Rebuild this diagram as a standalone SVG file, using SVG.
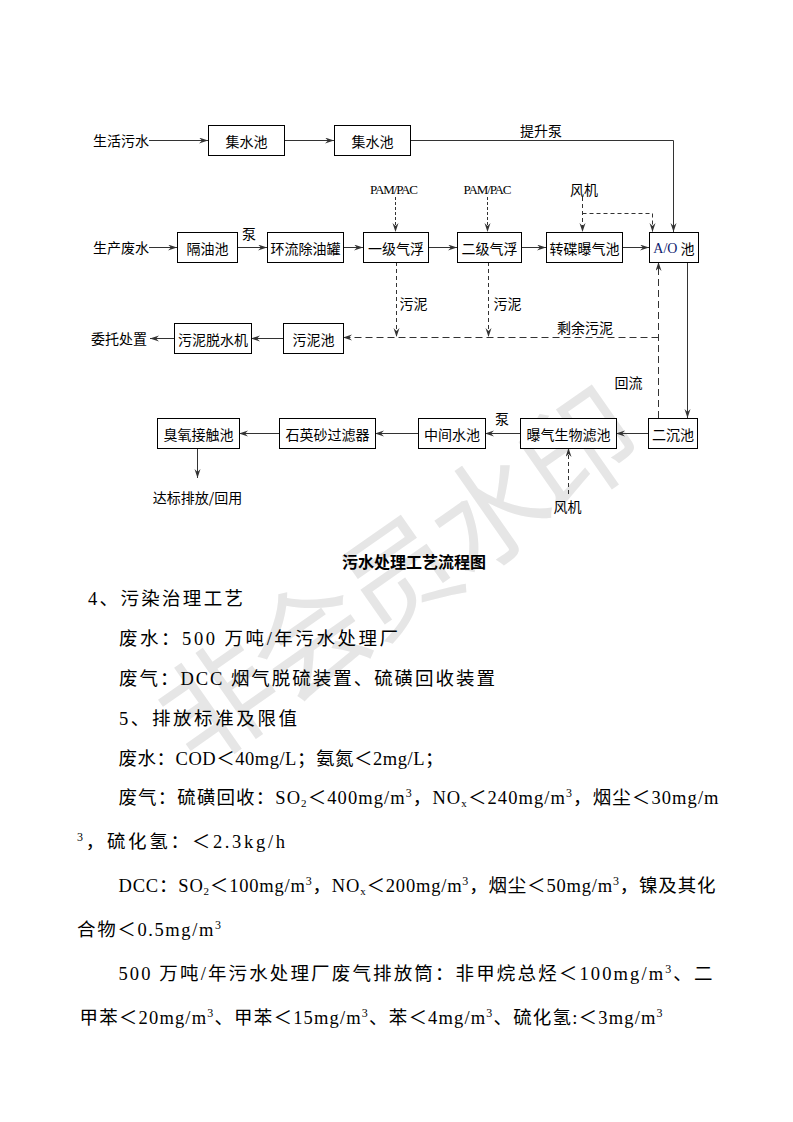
<svg xmlns="http://www.w3.org/2000/svg" width="793" height="1122" viewBox="0 0 793 1122">
<defs>
<marker id="arr" markerUnits="userSpaceOnUse" markerWidth="10" markerHeight="8" refX="9" refY="3" orient="auto">
<path d="M0,0 L9,3 L0,6 L3,3 Z" fill="#333"/>
</marker>
</defs>
<style>
.box{fill:#fff;stroke:#000;stroke-width:1}
.lbl{font-family:"Noto Sans CJK SC",sans-serif;font-size:14px;fill:#000;text-anchor:middle;dominant-baseline:central}
.mono{font-family:"Liberation Serif","Noto Sans CJK SC",serif;font-size:13px;fill:#000;text-anchor:middle;dominant-baseline:central}
.ln{fill:none;stroke:#333;stroke-width:1;marker-end:url(#arr)}
.d1{stroke-dasharray:3 2}
.d2{stroke-dasharray:4 3}
.d3{stroke-dasharray:7 4}
.body{font-family:"Liberation Serif","Noto Sans CJK SC",serif;font-size:18.5px;fill:#000}
.sup{font-size:12px;baseline-shift:7px}
.sub{font-size:11px;baseline-shift:-3px}
.title{font-family:"Noto Sans CJK SC",sans-serif;font-size:16px;font-weight:bold;fill:#000;text-anchor:middle}
.wm{font-family:"Noto Sans CJK SC",sans-serif;font-size:115px;fill:#e6e6e6;text-anchor:middle;letter-spacing:-5px}
</style>
<rect width="793" height="1122" fill="#fff"/>
<g id="watermark">
<text class="wm" x="398" y="618" transform="rotate(-35 400 578)">非会员水印</text>
</g>
<g id="connectors">
<path class="ln" d="M149,140.5 H208"/>
<path class="ln" d="M284,140.5 H334"/>
<path class="ln" d="M410,140.5 H673.5 V232"/>
<path class="ln" d="M149,247.5 H177"/>
<path class="ln" d="M237,247.5 H267"/>
<path class="ln" d="M343,247.5 H363"/>
<path class="ln" d="M428,247.5 H457"/>
<path class="ln" d="M521,247.5 H546"/>
<path class="ln" d="M622,247.5 H649"/>
<path class="ln d1" d="M395.5,197 V232"/>
<path class="ln d1" d="M487.5,197 V232"/>
<path class="ln d2" d="M582.5,197 V232"/>
<path class="ln d2" d="M582.5,213.5 H652.5 V232"/>
<path class="ln d2" d="M396.5,262 V337"/>
<path class="ln d2" d="M488.5,262 V337"/>
<path class="ln d3" d="M658.5,337.5 H343"/>
<path class="ln d3" d="M658.5,418 V262"/>
<path class="ln" d="M283,338.5 H251"/>
<path class="ln" d="M174,338.5 H150"/>
<path class="ln" d="M687.5,262 V418"/>
<path class="ln" d="M648,433.5 H616"/>
<path class="ln" d="M520,433.5 H485"/>
<path class="ln" d="M418,433.5 H375"/>
<path class="ln" d="M279,433.5 H239"/>
<path class="ln" d="M197.5,448 V478" stroke-width="1.5"/>
<path class="ln d2" d="M568.5,494 V448"/>
</g>
<g id="n-shenghuo"><text class="lbl" x="121" y="140">生活污水</text></g>
<g id="n-jishui1"><rect class="box" x="208.5" y="125.5" width="76" height="30"/><text class="lbl" x="246.5" y="140.5">集水池</text></g>
<g id="n-jishui2"><rect class="box" x="334.5" y="125.5" width="76" height="30"/><text class="lbl" x="372.5" y="140.5">集水池</text></g>
<g id="n-tishengbeng"><text class="lbl" x="541" y="130">提升泵</text></g>
<g id="n-shengchan"><text class="lbl" x="121" y="247">生产废水</text></g>
<g id="n-geyou"><rect class="box" x="177.5" y="232.5" width="60" height="30"/><text class="lbl" x="207.5" y="247.5">隔油池</text></g>
<g id="n-beng1"><text class="lbl" x="249" y="233">泵</text></g>
<g id="n-huanliu"><rect class="box" x="267.5" y="232.5" width="76" height="30"/><text class="lbl" x="305.5" y="247.5">环流除油罐</text></g>
<g id="n-yiji"><rect class="box" x="363.5" y="232.5" width="65" height="30"/><text class="lbl" x="396" y="247.5">一级气浮</text></g>
<g id="n-erji"><rect class="box" x="457.5" y="232.5" width="64" height="30"/><text class="lbl" x="489.5" y="247.5">二级气浮</text></g>
<g id="n-zhuandie"><rect class="box" x="546.5" y="232.5" width="76" height="30"/><text class="lbl" x="584.5" y="247.5">转碟曝气池</text></g>
<g id="n-ao"><rect class="box" x="649.5" y="232.5" width="49" height="30"/><text class="lbl" x="674" y="247.5"><tspan font-family="Liberation Serif" fill="#0d1a6e">A/O</tspan> 池</text></g>
<g id="n-pam1"><text class="mono" x="394" y="189" textLength="48">PAM/PAC</text></g>
<g id="n-pam2"><text class="mono" x="487.5" y="189" textLength="48">PAM/PAC</text></g>
<g id="n-fengji1"><text class="lbl" x="584" y="189">风机</text></g>
<g id="n-wuni1"><text class="lbl" x="413.5" y="303">污泥</text></g>
<g id="n-wuni2"><text class="lbl" x="507.5" y="303">污泥</text></g>
<g id="n-shengyu"><text class="lbl" x="585" y="326.5">剩余污泥</text></g>
<g id="n-huiliu"><text class="lbl" x="628.5" y="381.5">回流</text></g>
<g id="n-weituo"><text class="lbl" x="119" y="338">委托处置</text></g>
<g id="n-tuoshui"><rect class="box" x="174.5" y="323.5" width="77" height="30"/><text class="lbl" x="213" y="338.5">污泥脱水机</text></g>
<g id="n-wunichi"><rect class="box" x="283.5" y="323.5" width="60" height="30"/><text class="lbl" x="313.5" y="338.5">污泥池</text></g>
<g id="n-chouyang"><rect class="box" x="157.5" y="418.5" width="82" height="30"/><text class="lbl" x="198.5" y="433.5">臭氧接触池</text></g>
<g id="n-shiying"><rect class="box" x="279.5" y="418.5" width="96" height="30"/><text class="lbl" x="327.5" y="433.5">石英砂过滤器</text></g>
<g id="n-zhongjian"><rect class="box" x="418.5" y="418.5" width="67" height="30"/><text class="lbl" x="452" y="433.5">中间水池</text></g>
<g id="n-beng2"><text class="lbl" x="502" y="418">泵</text></g>
<g id="n-baoqi"><rect class="box" x="520.5" y="418.5" width="96" height="30"/><text class="lbl" x="568.5" y="433.5">曝气生物滤池</text></g>
<g id="n-erchen"><rect class="box" x="648.5" y="418.5" width="49" height="30"/><text class="lbl" x="673" y="433.5">二沉池</text></g>
<g id="n-fengji2"><text class="lbl" x="567.5" y="505.5">风机</text></g>
<g id="n-dabiao"><text class="lbl" x="197.5" y="496.5">达标排放/回用</text></g>
<g id="caption"><text class="title" x="414" y="568">污水处理工艺流程图</text></g>
<g id="body">
<text class="body" x="88" y="605" textLength="155" lengthAdjust="spacing">4、污染治理工艺</text>
<text class="body" x="119" y="645" textLength="279" lengthAdjust="spacing">废水：500 万吨/年污水处理厂</text>
<text class="body" x="119" y="685" textLength="376" lengthAdjust="spacing">废气：DCC 烟气脱硫装置、硫磺回收装置</text>
<text class="body" x="119" y="725" textLength="178" lengthAdjust="spacing">5、排放标准及限值</text>
<text class="body" x="118.5" y="765" textLength="325" lengthAdjust="spacing">废水：COD＜40mg/L；氨氮＜2mg/L；</text>
<text class="body" x="118.5" y="804" textLength="600" lengthAdjust="spacing">废气：硫磺回收：SO<tspan class="sub">2</tspan>＜400mg/m<tspan class="sup">3</tspan>，NO<tspan class="sub">x</tspan>＜240mg/m<tspan class="sup">3</tspan>，烟尘＜30mg/m</text>
<text class="body" x="77" y="848" textLength="208" lengthAdjust="spacing"><tspan class="sup">3</tspan>，硫化氢：＜2.3kg/h</text>
<text class="body" x="118.5" y="892" textLength="597" lengthAdjust="spacing">DCC：SO<tspan class="sub">2</tspan>＜100mg/m<tspan class="sup">3</tspan>，NO<tspan class="sub">x</tspan>＜200mg/m<tspan class="sup">3</tspan>，烟尘＜50mg/m<tspan class="sup">3</tspan>，镍及其化</text>
<text class="body" x="77" y="936" textLength="144" lengthAdjust="spacing">合物＜0.5mg/m<tspan class="sup">3</tspan></text>
<text class="body" x="118.5" y="980" textLength="594" lengthAdjust="spacing">500 万吨/年污水处理厂废气排放筒：非甲烷总烃＜100mg/m<tspan class="sup">3</tspan>、二</text>
<text class="body" x="79.5" y="1024" textLength="583" lengthAdjust="spacing">甲苯＜20mg/m<tspan class="sup">3</tspan>、甲苯＜15mg/m<tspan class="sup">3</tspan>、苯＜4mg/m<tspan class="sup">3</tspan>、硫化氢:＜3mg/m<tspan class="sup">3</tspan></text>
</g>
</svg>
